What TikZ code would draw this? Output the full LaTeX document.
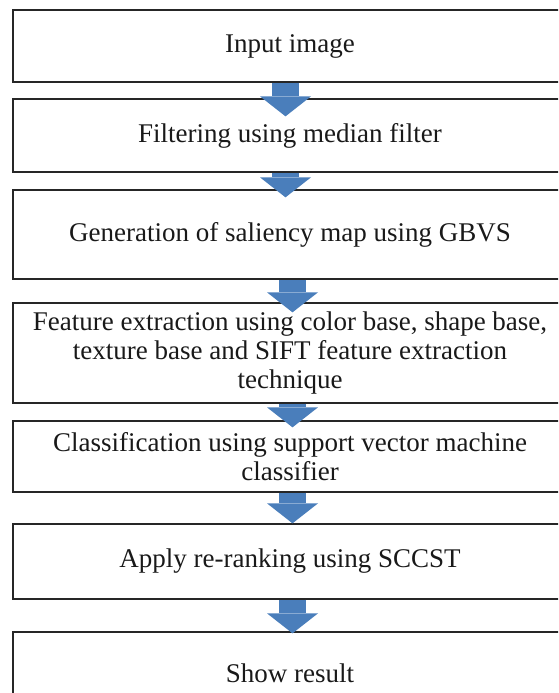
\documentclass[tikz,border=0pt]{standalone}
\usepackage{fontspec}
\setmainfont{Liberation Serif}
\usetikzlibrary{arrows.meta}
\definecolor{arrowblue}{RGB}{74,126,187}
\tikzset{
  stepbox/.style={draw=black!85, line width=1.3pt, minimum width=554pt, align=center,
    inner sep=0pt, text=black!90, font=\fontsize{27}{29}\selectfont},
  flowarrow/.style={draw=arrowblue, line width=27pt,
    -{Triangle[length=20pt, width=51pt, line width=0pt]}}
}
\begin{document}
\begin{tikzpicture}[x=1pt,y=1pt]
		% Frame
		\useasboundingbox (0,0) rectangle (558,-693);
		\clip (0,0) rectangle (558,-693);
		
		% Steps
		\node[stepbox, minimum height=72pt] (input) at (290,-46) {Input image};
		\node[stepbox, minimum height=73pt] (filter) at (290,-135.5) {Filtering using median filter};
		\node[stepbox, minimum height=89pt] (saliency) at (290,-234.5) {Generation of saliency map using GBVS};
		\node[stepbox, minimum height=100pt] (feature) at (290,-353) {Feature extraction using color base, shape base,\\ texture base and SIFT feature extraction\\ technique};
		\node[stepbox, minimum height=71pt] (classify) at (290,-456.5) {Classification using support vector machine\\ classifier};
		\node[stepbox, minimum height=75pt] (rerank) at (290,-561.5) {Apply re-ranking using SCCST};
		\node[stepbox, minimum height=82pt] (result) at (290,-673) {Show result};
		
		% Arrows
		\draw[flowarrow] ([xshift=-4.5pt]input.south) -- ([xshift=-4.5pt,yshift=-18pt]filter.north);
		\draw[flowarrow] ([xshift=-4.5pt]filter.south) -- ([xshift=-4.5pt,yshift=-8pt]saliency.north);
		\draw[flowarrow] ([xshift=2.5pt]saliency.south) -- ([xshift=2.5pt,yshift=-10pt]feature.north);
		\draw[flowarrow] ([xshift=2.5pt]feature.south) -- ([xshift=2.5pt,yshift=-7pt]classify.north);
		\draw[flowarrow] ([xshift=2.5pt]classify.south) -- ([xshift=2.5pt]rerank.north);
		\draw[flowarrow] ([xshift=2.5pt]rerank.south) -- ([xshift=2.5pt,yshift=-2pt]result.north);
	\end{tikzpicture}
\end{document}
